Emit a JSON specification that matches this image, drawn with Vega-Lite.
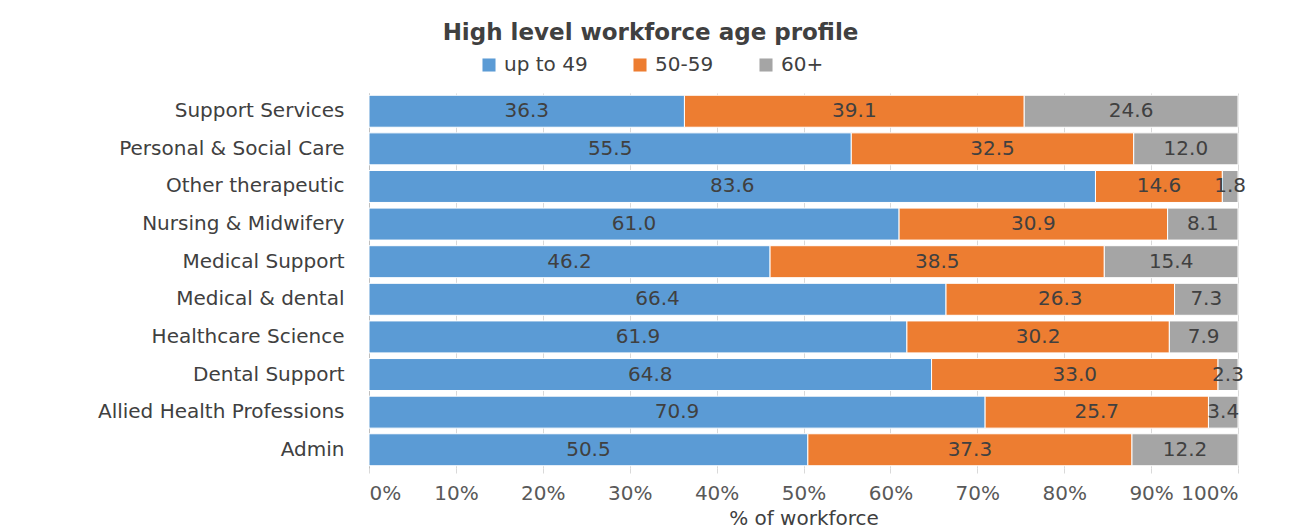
{
  "$schema": "https://vega.github.io/schema/vega-lite/v6.json",
  "autosize": "none",
  "width": 869,
  "height": 375,
  "padding": {"left": 369, "top": 93, "right": 53, "bottom": 62},
  "background": "white",
  "config": {
    "font": "DejaVu Sans",
    "view": {"stroke": null}
  },
  "title": {
    "text": "High level workforce age profile",
    "fontSize": 23,
    "fontWeight": "bold",
    "color": "#404040",
    "anchor": "middle",
    "dx": -153,
    "offset": 10
  },
  "data": {
    "values": [
      {"group": "Support Services", "band": "up to 49", "o": 1, "value": 36.3},
      {"group": "Support Services", "band": "50-59", "o": 2, "value": 39.1},
      {"group": "Support Services", "band": "60+", "o": 3, "value": 24.6},
      {"group": "Personal & Social Care", "band": "up to 49", "o": 1, "value": 55.5},
      {"group": "Personal & Social Care", "band": "50-59", "o": 2, "value": 32.5},
      {"group": "Personal & Social Care", "band": "60+", "o": 3, "value": 12.0},
      {"group": "Other therapeutic", "band": "up to 49", "o": 1, "value": 83.6},
      {"group": "Other therapeutic", "band": "50-59", "o": 2, "value": 14.6},
      {"group": "Other therapeutic", "band": "60+", "o": 3, "value": 1.8},
      {"group": "Nursing & Midwifery", "band": "up to 49", "o": 1, "value": 61.0},
      {"group": "Nursing & Midwifery", "band": "50-59", "o": 2, "value": 30.9},
      {"group": "Nursing & Midwifery", "band": "60+", "o": 3, "value": 8.1},
      {"group": "Medical Support", "band": "up to 49", "o": 1, "value": 46.2},
      {"group": "Medical Support", "band": "50-59", "o": 2, "value": 38.5},
      {"group": "Medical Support", "band": "60+", "o": 3, "value": 15.4},
      {"group": "Medical & dental", "band": "up to 49", "o": 1, "value": 66.4},
      {"group": "Medical & dental", "band": "50-59", "o": 2, "value": 26.3},
      {"group": "Medical & dental", "band": "60+", "o": 3, "value": 7.3},
      {"group": "Healthcare Science", "band": "up to 49", "o": 1, "value": 61.9},
      {"group": "Healthcare Science", "band": "50-59", "o": 2, "value": 30.2},
      {"group": "Healthcare Science", "band": "60+", "o": 3, "value": 7.9},
      {"group": "Dental Support", "band": "up to 49", "o": 1, "value": 64.8},
      {"group": "Dental Support", "band": "50-59", "o": 2, "value": 33.0},
      {"group": "Dental Support", "band": "60+", "o": 3, "value": 2.3},
      {"group": "Allied Health Professions", "band": "up to 49", "o": 1, "value": 70.9},
      {"group": "Allied Health Professions", "band": "50-59", "o": 2, "value": 25.7},
      {"group": "Allied Health Professions", "band": "60+", "o": 3, "value": 3.4},
      {"group": "Admin", "band": "up to 49", "o": 1, "value": 50.5},
      {"group": "Admin", "band": "50-59", "o": 2, "value": 37.3},
      {"group": "Admin", "band": "60+", "o": 3, "value": 12.2}
    ]
  },
  "transform": [
    {"stack": "value", "groupby": ["group"], "sort": [{"field": "o", "order": "ascending"}], "offset": "normalize", "as": ["x0", "x1"]},
    {"calculate": "(datum.x0 + datum.x1) / 2", "as": "mid"}
  ],
  "encoding": {
    "y": {
      "field": "group",
      "type": "nominal",
      "sort": ["Support Services", "Personal & Social Care", "Other therapeutic", "Nursing & Midwifery", "Medical Support", "Medical & dental", "Healthcare Science", "Dental Support", "Allied Health Professions", "Admin"],
      "scale": {"paddingInner": 0.15, "paddingOuter": 0.06},
      "axis": {
        "title": null,
        "ticks": false,
        "labelFontSize": 20,
        "labelColor": "#404040",
        "labelPadding": 25,
        "domainColor": "#bfbfbf",
        "domainWidth": 1,
        "labelLimit": 400
      }
    }
  },
  "layer": [
    {
      "mark": {"type": "bar", "stroke": "white", "strokeWidth": 1},
      "encoding": {
        "x": {
          "field": "x0",
          "type": "quantitative",
          "scale": {"domain": [0, 1]},
          "axis": {
            "title": "% of workforce",
            "titleFontSize": 20,
            "titleFontWeight": "normal",
            "titleColor": "#404040",
            "titlePadding": 5,
            "format": ".0%",
            "values": [0, 0.1, 0.2, 0.3, 0.4, 0.5, 0.6, 0.7, 0.8, 0.9, 1],
            "labelOverlap": false,
            "labelFontSize": 20,
            "labelColor": "#595959",
            "labelPadding": 10,
            "domain": false,
            "grid": true,
            "gridColor": "#d9d9d9",
            "tickColor": "#d9d9d9",
            "tickSize": 5
          }
        },
        "x2": {"field": "x1"},
        "color": {
          "field": "band",
          "type": "nominal",
          "scale": {"domain": ["up to 49", "50-59", "60+"], "range": ["#5B9BD5", "#ED7D31", "#A5A5A5"]},
          "legend": {
            "title": null,
            "orient": "none",
            "direction": "horizontal",
            "legendX": 110,
            "legendY": -38,
            "symbolType": "square",
            "symbolSize": 170,
            "symbolStrokeWidth": 0,
            "labelFontSize": 20,
            "labelColor": "#404040",
            "columnPadding": 42,
            "labelOffset": 5
          }
        }
      }
    },
    {
      "mark": {"type": "text", "fontSize": 20, "color": "#404040", "align": "center", "baseline": "middle"},
      "encoding": {
        "x": {"field": "mid", "type": "quantitative"},
        "text": {"field": "value", "type": "quantitative", "format": ".1f"}
      }
    }
  ]
}
